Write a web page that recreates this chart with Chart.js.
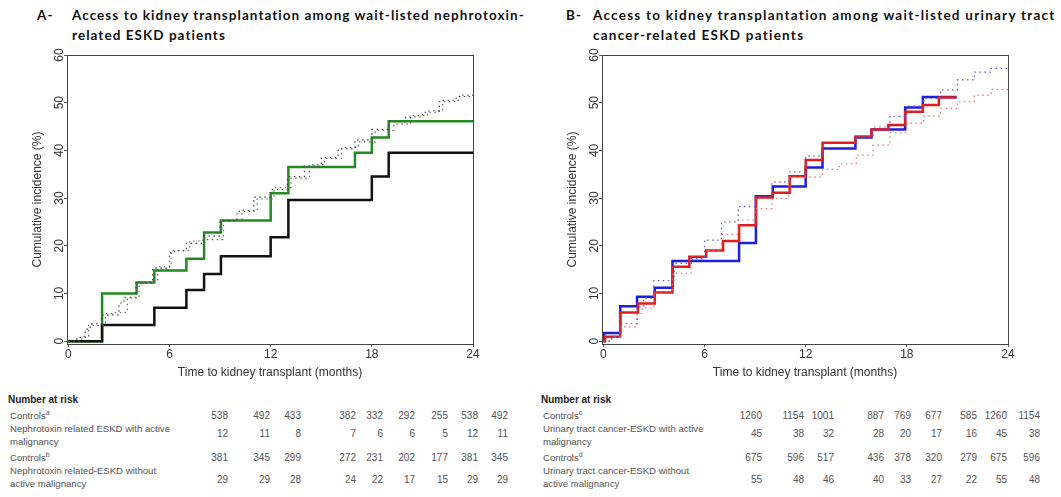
<!DOCTYPE html>
<html>
<head>
<meta charset="utf-8">
<script src="https://cdn.jsdelivr.net/npm/chart.js"></script>
<style>
  body { margin: 0; width: 1061px; height: 497px; background: #fff; position: relative; overflow: hidden; }
  canvas { position: absolute; }
  .ttl { position: absolute; font: bold 13.5px Lato, 'Open Sans', sans-serif; color: #111; line-height: 20px; white-space: nowrap; letter-spacing: 1.05px; }
  .tbl { position: absolute; font: 9.6px 'Liberation Sans', Arial, sans-serif; color: #555; white-space: nowrap; }
  .tbl div { position: absolute; }
  .tbl .hd { font-weight: bold; color: #222; font-size: 10px; }
  .tbl .n { text-align: right; width: 40px; font-size: 10px; }
  sup { font-size: 7px; line-height: 0; }
</style>
</head>
<body>

<div class="ttl" style="left:37px; top:5px;">A-</div>
<div class="ttl" style="left:72px; top:5px;">Access to kidney transplantation among wait-listed nephrotoxin-<br>related ESKD patients</div>
<div class="ttl" style="left:566px; top:5px;">B-</div>
<div class="ttl" style="left:593px; top:5px; letter-spacing:1.25px;">Access to kidney transplantation among wait-listed urinary tract<br>cancer-related ESKD patients</div>

<canvas id="chartA" width="470" height="335" style="left:20px; top:45px;"></canvas>
<canvas id="chartB" width="470" height="335" style="left:555px; top:45px;"></canvas>

<div class="tbl" id="tableA" style="left:0; top:0;"></div>
<div class="tbl" id="tableB" style="left:0; top:0;"></div>

<script>
// axis ticks
const monthTicks = [0, 6, 12, 18, 24];
const incidenceTicks = [0, 10, 20, 30, 40, 50, 60];

// panel A - nephrotoxin related ESKD
const nephroGreenMonths = [0, 2, 4.05, 5.1, 7, 8.05, 9.05, 12, 13.05, 17, 18, 19, 24];
const nephroGreenValues = [0, 10, 12.3, 14.8, 17.3, 22.8, 25.3, 31, 36.5, 39.5, 42.7, 46.1, 46.1];
const nephroBlackMonths = [0, 2, 5.1, 7, 8.05, 9.05, 12, 13.05, 18, 19, 24];
const nephroBlackValues = [0, 3.4, 7, 10.7, 14.1, 17.8, 21.8, 29.6, 34.5, 39.5, 39.5];
const controlsAMonths = [0, 0.5, 1, 1.3, 2, 3, 3.3, 4, 5, 6, 6.3, 7, 8, 9, 10, 11, 12, 13, 14, 15, 16, 17, 18, 19, 20, 21, 22, 23, 24];
const controlsAValues = [0, 0.8, 2.5, 3.6, 5.5, 8, 9.2, 12.2, 15.3, 18.5, 19, 20.5, 22, 25.2, 27.2, 30.2, 31.8, 34.5, 36.7, 38.5, 40.3, 42.2, 44.4, 46, 47, 48, 50.2, 51.3, 51.6];
const controlsBMonths = [0, 0.8, 1.2, 2.2, 2.6, 3.5, 4.2, 5.3, 6.1, 7.2, 8.2, 9.2, 10.3, 11.2, 12.2, 13.2, 14.3, 15.2, 16.2, 17.2, 18.2, 19.3, 20.3, 21.3, 22.2, 23.2, 24];
const controlsBValues = [0, 1, 3.3, 5.8, 6, 9, 12.5, 15.6, 19, 21, 21.3, 25.5, 27.4, 29.8, 32.2, 34.2, 37, 38.3, 40.6, 41.8, 44.2, 45.5, 47.3, 48.3, 50.5, 51.6, 51.8];

// panel B - urinary tract cancer related ESKD
const urinaryBlueMonths = [0, 0.05, 1, 2, 3.05, 4.1, 8.05, 9.05, 10.05, 12, 13, 14.95, 15.9, 17.9, 18.95, 20.95];
const urinaryBlueValues = [0, 1.7, 7.3, 9.3, 11.2, 16.8, 20.6, 30.4, 32.4, 36.4, 40.4, 42.7, 44.4, 49, 51.2, 51.2];
const urinaryRedMonths = [0, 0.1, 1, 2.05, 3.05, 4.1, 5.1, 6.1, 7.1, 8.05, 9.05, 10.05, 11.05, 12, 13, 14.95, 15.9, 16.9, 17.9, 18.95, 19.9, 20.95];
const urinaryRedValues = [0, 0.9, 6, 7.9, 10.2, 15.6, 17.7, 19, 21, 24.3, 30.1, 31.1, 34.6, 38, 41.6, 42.9, 44.4, 45.3, 48.1, 49.5, 51.1, 51.1];
const controlsCMonths = [0, 0.5, 1, 2, 2.4, 3, 4.2, 5.2, 6, 7, 8, 9, 10, 11, 12, 13, 15, 16, 17, 18, 19, 20, 21, 22, 23, 24];
const controlsCValues = [0, 1, 3.7, 7.2, 9, 12.7, 16.3, 17.3, 21.2, 25, 28.2, 30.3, 33.4, 35.5, 38.8, 40.6, 42.9, 44.9, 47.1, 49.3, 50.9, 52.7, 54.8, 56.4, 57.2, 57.4];
const controlsDMonths = [0, 0.5, 1, 2, 2.3, 3, 4.1, 5.2, 6, 7, 8, 9, 10, 11, 13, 14, 15, 16, 17, 18, 19, 20, 21, 22, 23, 24];
const controlsDValues = [0, 0.8, 3, 5.8, 7, 10, 14.2, 17.1, 19, 22.4, 25.4, 27.8, 29.9, 34.4, 36, 37.2, 39, 41.1, 43.7, 45.7, 47.2, 48.8, 50.2, 51.6, 52.8, 53];

// number at risk tables
const riskAControlsA = [538, 492, 433, 382, 332, 292, 255, 538, 492];
const riskANephroActive = [12, 11, 8, 7, 6, 6, 5, 12, 11];
const riskAControlsB = [381, 345, 299, 272, 231, 202, 177, 381, 345];
const riskANephroInactive = [29, 29, 28, 24, 22, 17, 15, 29, 29];
const riskBControlsC = [1260, 1154, 1001, 887, 769, 677, 585, 1260, 1154];
const riskBUrinaryActive = [45, 38, 32, 28, 20, 17, 16, 45, 38];
const riskBControlsD = [675, 596, 517, 436, 378, 320, 279, 675, 596];
const riskBUrinaryInactive = [55, 48, 46, 40, 33, 27, 22, 55, 48];

function pts(xs, ys) {
  return xs.map((x, i) => ({ x: x, y: ys[i] }));
}

function solid(xs, ys, color) {
  return { data: pts(xs, ys), borderColor: color, borderWidth: 2.5, stepped: 'before', pointRadius: 0, fill: false };
}

function dotted(xs, ys, color) {
  return { data: pts(xs, ys), borderColor: color, borderWidth: 1.2, borderDash: [1.5, 3.5], stepped: 'before', pointRadius: 0, fill: false };
}

const boxPlugin = {
  id: 'box',
  afterDatasetsDraw(chart) {
    const a = chart.chartArea;
    const ctx = chart.ctx;
    ctx.save();
    ctx.strokeStyle = '#444';
    ctx.lineWidth = 1;
    ctx.strokeRect(Math.round(a.left) + 0.5, Math.round(a.top) + 0.5, Math.round(a.right - a.left), Math.round(a.bottom - a.top));
    ctx.restore();
  }
};

function makeChart(id, datasets) {
  const axisFont = { family: "'Liberation Sans', Arial, sans-serif", size: 12 };
  return new Chart(document.getElementById(id), {
    type: 'line',
    data: { datasets: datasets },
    options: {
      responsive: false,
      animation: false,
      devicePixelRatio: 1,
      layout: { padding: { top: 10, right: 17, bottom: 0, left: 0 } },
      plugins: { legend: { display: false }, tooltip: { enabled: false } },
      scales: {
        x: {
          type: 'linear', min: -0.08, max: 24,
          afterBuildTicks: s => { s.ticks = monthTicks.map(v => ({ value: v })); },
          afterFit: s => { s.height = 36; },
          ticks: { font: axisFont, color: '#333', padding: 0, maxRotation: 0 },
          grid: { drawOnChartArea: false, drawTicks: true, tickLength: 3, color: '#555' },
          border: { display: false },
          title: { display: true, text: 'Time to kidney transplant (months)', font: axisFont, color: '#333', padding: { top: 0, bottom: 0 } }
        },
        y: {
          type: 'linear', min: -0.6, max: 60,
          afterBuildTicks: s => { s.ticks = incidenceTicks.map(v => ({ value: v })); },
          afterFit: s => { s.width = 47; },
          ticks: { font: axisFont, color: '#333', padding: -2, minRotation: 90, maxRotation: 90, crossAlign: 'center' },
          grid: { drawOnChartArea: false, drawTicks: true, tickLength: 3, color: '#555' },
          border: { display: false },
          title: { display: true, text: 'Cumulative incidence (%)', font: axisFont, color: '#333', padding: { top: 10, bottom: 0 } }
        }
      }
    },
    plugins: [boxPlugin]
  });
}

makeChart('chartA', [
  dotted(controlsAMonths, controlsAValues, '#444'),
  dotted(controlsBMonths, controlsBValues, '#666'),
  solid(nephroBlackMonths, nephroBlackValues, '#111'),
  solid(nephroGreenMonths, nephroGreenValues, '#228b22')
]);

makeChart('chartB', [
  dotted(controlsCMonths, controlsCValues, '#5a5ac8'),
  dotted(controlsDMonths, controlsDValues, '#e07070'),
  solid(urinaryRedMonths, urinaryRedValues, '#e01e1e'),
  solid(urinaryBlueMonths, urinaryBlueValues, '#1e1ee0')
]);

// number at risk tables (html text)
function buildTable(el, left, colRight, rows) {
  let html = '<div class="hd" style="left:' + (left - 2) + 'px; top:394px;">Number at risk</div>';
  rows.forEach(r => {
    html += '<div style="left:' + left + 'px; top:' + r.labelTop + 'px; line-height:' + r.lh + 'px;">' + r.label + '</div>';
    r.values.forEach((v, i) => {
      html += '<div class="n" style="left:' + (colRight[i] - 40) + 'px; top:' + r.valueTop + 'px;">' + v + '</div>';
    });
  });
  el.innerHTML = html;
}

buildTable(document.getElementById('tableA'), 10, [228, 270, 301, 356, 383, 415, 448, 478, 508], [
  { label: 'Controls<sup>a</sup>', values: riskAControlsA, labelTop: 410, valueTop: 410, lh: 12 },
  { label: 'Nephrotoxin related ESKD with active<br>malignancy', values: riskANephroActive, labelTop: 422, valueTop: 428, lh: 13 },
  { label: 'Controls<sup>b</sup>', values: riskAControlsB, labelTop: 452, valueTop: 452, lh: 12 },
  { label: 'Nephrotoxin related-ESKD without<br>active malignancy', values: riskANephroInactive, labelTop: 465, valueTop: 474, lh: 12.5 }
]);

buildTable(document.getElementById('tableB'), 543, [762, 804, 834, 884, 911, 942, 977, 1007, 1040], [
  { label: 'Controls<sup>c</sup>', values: riskBControlsC, labelTop: 410, valueTop: 410, lh: 12 },
  { label: 'Urinary tract cancer-ESKD with active<br>malignancy', values: riskBUrinaryActive, labelTop: 422, valueTop: 428, lh: 13 },
  { label: 'Controls<sup>d</sup>', values: riskBControlsD, labelTop: 452, valueTop: 452, lh: 12 },
  { label: 'Urinary tract cancer-ESKD  without<br>active malignancy', values: riskBUrinaryInactive, labelTop: 465, valueTop: 474, lh: 12.5 }
]);
</script>
</body>
</html>
